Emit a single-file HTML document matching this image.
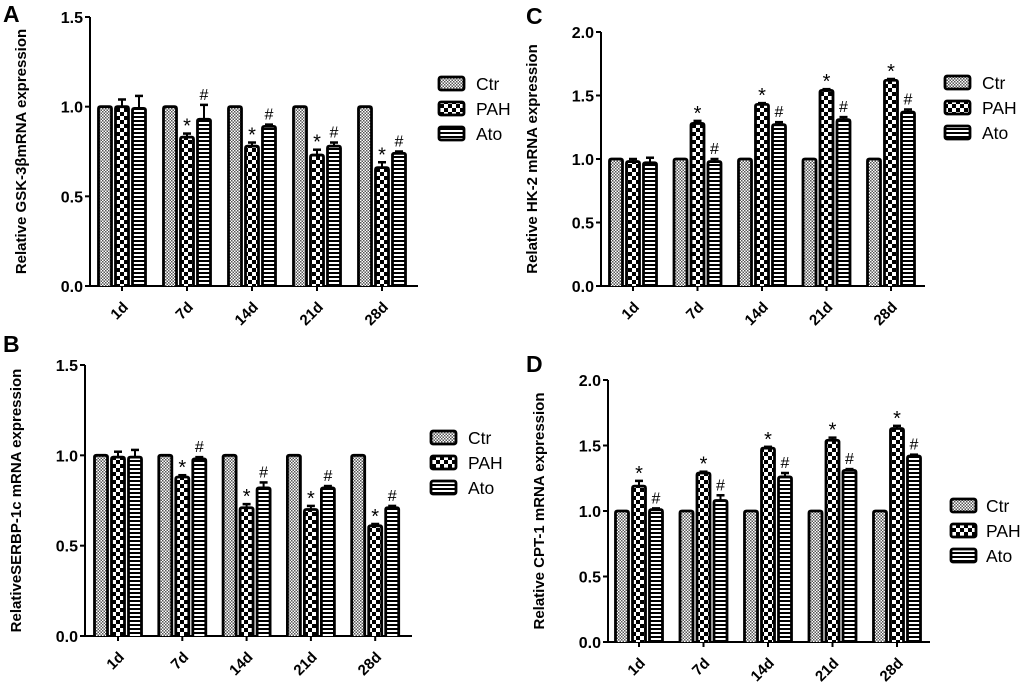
<!DOCTYPE html>
<html><head><meta charset="utf-8"><style>
body{margin:0;background:#fff}
svg{display:block;font-family:"Liberation Sans",Arial,sans-serif}
</style></head><body>
<svg id="fig" width="1020" height="688" viewBox="0 0 1020 688">
<defs>
<pattern id="pCtr" width="3" height="3" patternUnits="userSpaceOnUse"><rect width="3" height="3" fill="#fff"/><rect width="1.5" height="1.5" fill="#555"/><rect x="1.5" y="1.5" width="1.5" height="1.5" fill="#555"/></pattern>
<pattern id="pPAH" width="8" height="8" patternUnits="userSpaceOnUse"><rect width="8" height="8" fill="#fff"/><rect width="4" height="4" fill="#000"/><rect x="4" y="4" width="4" height="4" fill="#000"/></pattern>
<pattern id="pAto" width="4" height="4" patternUnits="userSpaceOnUse"><rect width="4" height="4" fill="#fff"/><rect width="4" height="2" fill="#000"/></pattern>
</defs>
</svg>
<script>
const categories=["1d","7d","14d","21d","28d"];
const seriesNames=["Ctr","PAH","Ato"];
const yTicksA=["0.0","0.5","1.0","1.5"];
const yTicksC=["0.0","0.5","1.0","1.5","2.0"];
const ctrA=[1,1,1,1,1];
const pahA=[1.0,0.83,0.78,0.73,0.66];
const pahErrA=[0.04,0.02,0.02,0.03,0.03];
const atoA=[0.99,0.93,0.89,0.78,0.74];
const atoErrA=[0.07,0.08,0.01,0.02,0.01];
const markPahA=["","*","*","*","*"];
const markAtoA=["","#","#","#","#"];
const ctrB=[1,1,1,1,1];
const pahB=[0.99,0.88,0.71,0.70,0.61];
const pahErrB=[0.03,0.01,0.02,0.02,0.01];
const atoB=[0.99,0.98,0.82,0.82,0.71];
const atoErrB=[0.04,0.01,0.03,0.01,0.01];
const markPahB=["","*","*","*","*"];
const markAtoB=["","#","#","#","#"];
const ctrC=[1,1,1,1,1];
const pahC=[0.98,1.28,1.43,1.54,1.62];
const pahErrC=[0.02,0.02,0.01,0.01,0.01];
const atoC=[0.97,0.98,1.27,1.31,1.37];
const atoErrC=[0.04,0.02,0.02,0.02,0.02];
const markPahC=["","*","*","*","*"];
const markAtoC=["","#","#","#","#"];
const ctrD=[1,1,1,1,1];
const pahD=[1.19,1.29,1.48,1.54,1.63];
const pahErrD=[0.04,0.01,0.01,0.02,0.02];
const atoD=[1.01,1.08,1.26,1.31,1.42];
const atoErrD=[0.01,0.04,0.03,0.01,0.01];
const markPahD=["*","*","*","*","*"];
const markAtoD=["#","#","#","#","#"];

const NS="http://www.w3.org/2000/svg";
const svg=document.getElementById('fig');
function mk(tag,attrs,parent,text){const e=document.createElementNS(NS,tag);for(const k in attrs)e.setAttribute(k,attrs[k]);if(text!==undefined)e.textContent=text;(parent||svg).appendChild(e);return e;}

function panel(o){
  const g=mk('g',{});
  
  
  const ymax=parseFloat(o.ticks[o.ticks.length-1]);
  const y=v=>o.y0-(v/ymax)*(o.y0-o.yTop);
  const xc=i=>o.c0+i*o.step;
  const lab=mk('text',{x:o.lx,y:o.ly,'font-size':23,'font-weight':'bold'},g,o.id);
  
  
  const t=mk('text',{transform:`translate(${o.ax-64},${(o.y0+o.yTop)/2}) rotate(-90)`,'text-anchor':'middle','font-size':15,'font-weight':'bold'},g,o.title);
  
  
  const ya=mk('line',{x1:o.ax,y1:o.yTop,x2:o.ax,y2:o.y0,stroke:'#000','stroke-width':2},g);
  
  
  o.ticks.forEach(tk=>{
    const yy=y(parseFloat(tk));
    mk('line',{x1:o.ax-5,y1:yy,x2:o.ax,y2:yy,stroke:'#000','stroke-width':2},g);
    const tl=mk('text',{x:o.ax-7,y:yy+6,'text-anchor':'end','font-size':16,'font-weight':'bold'},g,tk);
    
    
  });
  const xa=mk('line',{x1:o.ax-1,y1:o.y0,x2:o.axEnd,y2:o.y0,stroke:'#000','stroke-width':2},g);
  
  
  const series=[o.ctr,o.pah,o.ato];
  const errs=[null,o.pahErr,o.atoErr];
  const marks=[null,o.markPah,o.markAto];
  const fills=['url(#pCtr)','url(#pPAH)','url(#pAto)'];
  const off=[-17,0,17], bw=13;
  categories.forEach((c,i)=>{
    const cx=xc(i);
    mk('line',{x1:cx,y1:o.y0,x2:cx,y2:o.y0+5,stroke:'#000','stroke-width':2},g);
    const xl=mk('text',{transform:`translate(${cx+7},${o.y0+22}) rotate(-45)`,'text-anchor':'end','font-size':15,'font-weight':'bold'},g,c);
    
    
    series.forEach((s,k)=>{
      const v=s[i], bx=cx+off[k]-bw/2, by=y(v);
      if(errs[k]){
        const ey=y(v+errs[k][i]);
        mk('line',{x1:cx+off[k],y1:ey,x2:cx+off[k],y2:by,stroke:'#000','stroke-width':2},g);
        mk('line',{x1:cx+off[k]-4,y1:ey,x2:cx+off[k]+4,y2:ey,stroke:'#000','stroke-width':2.5},g);
      }
      const r=mk('path',{d:`M${bx},${o.y0} L${bx},${by+2} Q${bx},${by} ${bx+2},${by} L${bx+bw-2},${by} Q${bx+bw},${by} ${bx+bw},${by+2} L${bx+bw},${o.y0}`,fill:fills[k],stroke:'#000','stroke-width':2.8},g);
      
      
      if(marks[k]&&marks[k][i]){
        const top=y(v+errs[k][i]);
        const sym=marks[k][i];
        const m=mk('text',{x:cx+off[k],y:top-(sym==='*'?1:5),'text-anchor':'middle','font-size':sym==='*'?20:16},g,sym);
        
        
      }
    });
  });
  seriesNames.forEach((n,k)=>{
    const ly=o.legY+k*o.legStep;
    const lb=mk('rect',{x:o.legX,y:ly-6,width:25,height:13,rx:2,fill:fills[k],stroke:'#000','stroke-width':2.8},g);
    
    
    const lt=mk('text',{x:o.legX+o.legGap,y:ly+7,'font-size':17.5},g,n);
    
    
  });
}
panel({id:'A',title:'Relative GSK-3βmRNA expression',ticks:yTicksA,ax:90,axEnd:418,yTop:17,y0:286,c0:122,step:65,lx:3,ly:22,legX:439,legY:83,legStep:25,legGap:37,
  ctr:ctrA,pah:pahA,pahErr:pahErrA,ato:atoA,atoErr:atoErrA,markPah:markPahA,markAto:markAtoA});
panel({id:'C',title:'Relative HK-2 mRNA expression',ticks:yTicksC,ax:601,axEnd:925,yTop:32,y0:286,c0:633,step:64.5,lx:526,ly:24,legX:945,legY:82,legStep:25,legGap:37,
  ctr:ctrC,pah:pahC,pahErr:pahErrC,ato:atoC,atoErr:atoErrC,markPah:markPahC,markAto:markAtoC});
panel({id:'B',title:'RelativeSERBP-1c mRNA expression',ticks:yTicksA,ax:85,axEnd:412,yTop:365,y0:636,c0:118,step:64.3,lx:3,ly:352,legX:431,legY:437,legStep:25,legGap:37,
  ctr:ctrB,pah:pahB,pahErr:pahErrB,ato:atoB,atoErr:atoErrB,markPah:markPahB,markAto:markAtoB});
panel({id:'D',title:'Relative CPT-1 mRNA expression',ticks:yTicksC,ax:608,axEnd:930,yTop:380,y0:642,c0:639,step:64.5,lx:526,ly:372,legX:951,legY:505,legStep:25,legGap:35,
  ctr:ctrD,pah:pahD,pahErr:pahErrD,ato:atoD,atoErr:atoErrD,markPah:markPahD,markAto:markAtoD});
</script>
</body></html>
